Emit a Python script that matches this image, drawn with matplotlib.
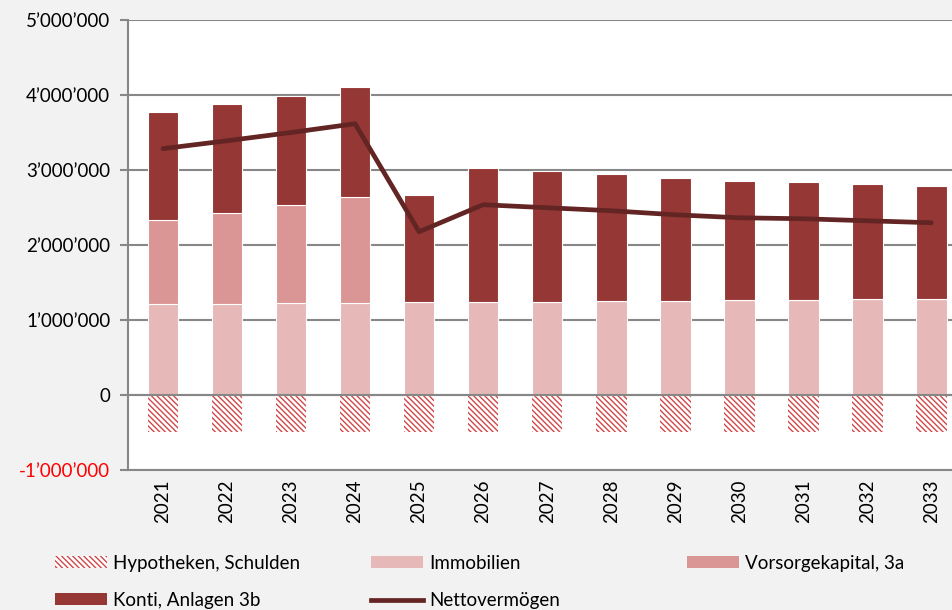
import matplotlib.pyplot as plt
from matplotlib.patches import Patch
from matplotlib.lines import Line2D
import numpy as np

plt.rcParams['font.family'] = ['Lato', 'DejaVu Sans']
plt.rcParams['hatch.linewidth'] = 1.0

years = ['2021', '2022', '2023', '2024', '2025', '2026', '2027',
         '2028', '2029', '2030', '2031', '2032', '2033']
hypotheken = [-490000] * 13
immobilien = [1210000, 1215000, 1220000, 1230000, 1235000, 1240000, 1245000,
              1250000, 1255000, 1260000, 1270000, 1275000, 1285000]
vorsorge = [1125000, 1215000, 1315000, 1415000, 0, 0, 0, 0, 0, 0, 0, 0, 0]
konti = [1440000, 1450000, 1455000, 1462000, 1432000, 1787000, 1742000,
         1697000, 1638000, 1593000, 1570000, 1538000, 1502000]
netto = [3285000, 3390000, 3500000, 3617000, 2177000, 2537000, 2497000,
         2457000, 2403000, 2363000, 2350000, 2323000, 2297000]

c_immo = '#E6B8B7'
c_vors = '#DA9694'
c_konti = '#953735'
c_netto = '#632523'
c_hatch = '#D0484A'
fs = 13.5

fig = plt.figure(figsize=(9.53, 6.10), dpi=100)
fig.patch.set_facecolor('#F2F2F2')
ax = fig.add_axes([128 / 953, 1 - 470 / 610, 1 - 128 / 953, 450 / 610])
ax.set_facecolor('white')

x = np.arange(len(years))
w = 0.48
immo = np.array(immobilien)
vors = np.array(vorsorge)
kont = np.array(konti)

ax.bar(x, hypotheken, w, color='white', edgecolor=c_hatch, hatch='\\\\\\\\\\\\',
       linewidth=0, zorder=2)
ax.bar(x, immo, w, color=c_immo, edgecolor='white', linewidth=0.8, zorder=2)
ax.bar(x, vors, w, bottom=immo, color=c_vors, edgecolor='white', linewidth=0.8, zorder=2)
ax.bar(x, kont, w, bottom=immo + vors, color=c_konti, edgecolor='white', linewidth=0.8, zorder=2)
ax.plot(x, netto, color=c_netto, lw=3.4, solid_capstyle='round', zorder=4)
ax.axhline(0, color='#878787', lw=1.5, zorder=3)

ax.set_ylim(-1000000, 5000000)
ax.set_xlim(-0.547, 12.34)
ax.set_yticks(range(-1000000, 5000001, 1000000))
ax.set_yticklabels([f'{v:,}'.replace(',', '\u2019') for v in range(-1000000, 5000001, 1000000)],
                   fontsize=fs)
ax.get_yticklabels()[0].set_color('red')
ax.set_xticks(x)
ax.set_xticklabels(years, rotation=90, fontsize=fs)
ax.tick_params(axis='x', length=0, pad=7)
ax.tick_params(axis='y', length=5.8, width=1.5, color='#878787', pad=7)
ax.yaxis.grid(True, color='#878787', lw=1.5)
ax.set_axisbelow(True)
for s in ['top', 'right']:
    ax.spines[s].set_visible(False)
for s in ['left', 'bottom']:
    ax.spines[s].set_color('#878787')
    ax.spines[s].set_linewidth(1.5)

# legend, one column at a time so the spacing is fixed
h_hyp = Patch(facecolor='white', edgecolor=c_hatch, hatch='\\\\\\\\\\\\', linewidth=0)
h_immo = Patch(facecolor=c_immo)
h_vors = Patch(facecolor=c_vors)
h_konti = Patch(facecolor=c_konti)
h_netto = Line2D([], [], color=c_netto, lw=3.4)
cols = [([h_hyp, h_konti], ['Hypotheken, Schulden', 'Konti, Anlagen 3b']),
        ([h_immo, h_netto], ['Immobilien', 'Nettovermögen']),
        ([h_vors], ['Vorsorgekapital, 3a'])]
for i, (hs, ls) in enumerate(cols):
    fig.legend(hs, ls, loc='upper left', bbox_to_anchor=((55 + 316 * i) / 953, 1 - 555 / 610),
               frameon=False, fontsize=fs, handlelength=2.77, handleheight=0.59,
               handletextpad=0.32, labelspacing=1.06, borderaxespad=0, borderpad=0)

fig.savefig('out.png', dpi=100, facecolor=fig.get_facecolor())
